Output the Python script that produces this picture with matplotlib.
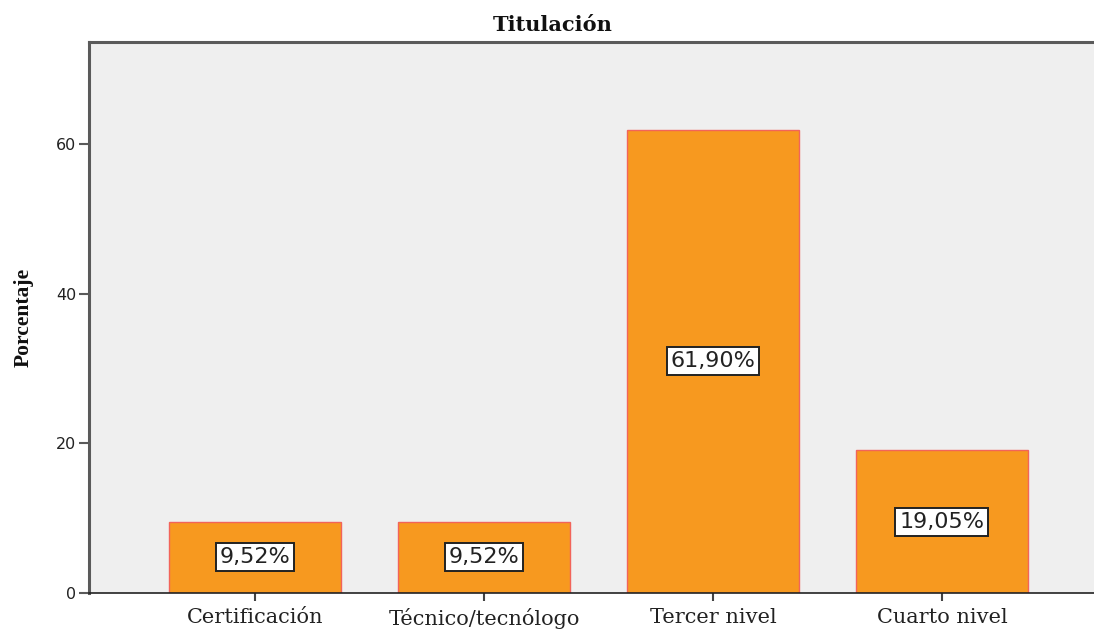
import matplotlib
matplotlib.use("Agg")
import matplotlib.pyplot as plt

# Titulación: share of respondents by highest degree
categories = ["Certificación", "Técnico/tecnólogo", "Tercer nivel", "Cuarto nivel"]
percentages = [9.52, 9.52, 61.90, 19.05]

_BAR = "#F7991F"
_BAR_EDGE = "#F2645A"
_PANEL = "#EFEFEF"
_SPINE = "#5A5A5A"
_SERIF = ["DejaVu Serif"]
_NARROW_SERIF = ["Liberation Serif", "DejaVu Serif"]

fig = plt.figure(figsize=(10.94, 6.29), dpi=100)
ax = fig.add_axes([0.0814, 0.0572, 0.9186, 0.876])
ax.set_facecolor(_PANEL)

xs = list(range(len(categories)))
ax.bar(xs, percentages, width=0.75, color=_BAR, edgecolor=_BAR_EDGE,
       linewidth=1.0, zorder=2)

for x, v in zip(xs, percentages):
    label = f"{v:.2f}%".replace(".", ",")
    ax.text(x, v / 2, label, ha="center", va="center", fontsize=16,
            color="#222222", zorder=3,
            bbox=dict(boxstyle="square,pad=0.18", facecolor="white",
                      edgecolor="#222222", linewidth=1.4))

ax.set_xlim(-0.725, 3.664)
ax.set_ylim(0, 73.6)
ax.set_yticks([0, 20, 40, 60])
ax.set_xticks(xs)
ax.set_xticklabels(categories, family=_SERIF, fontsize=15, color="#222222")
ax.tick_params(axis="y", direction="out", length=7, width=1.5,
               labelsize=11.5, color=_SPINE, labelcolor="#222222", pad=2)
ax.tick_params(axis="x", direction="out", length=6, width=1.5,
               color="#444444", pad=5)

ax.spines["right"].set_visible(False)
ax.spines["left"].set_color(_SPINE)
ax.spines["left"].set_linewidth(2.2)
ax.spines["top"].set_color(_SPINE)
ax.spines["top"].set_linewidth(2.2)
ax.spines["bottom"].set_color("#222222")
ax.spines["bottom"].set_linewidth(1.2)

ax.set_ylabel("Porcentaje", family=_NARROW_SERIF, fontweight="bold",
              fontsize=15.5, color="#111111", labelpad=16)
fig.text(553 / 1094, 1 - 25 / 629, "Titulación", family=_SERIF,
         fontweight="bold", fontsize=15, ha="center", va="center",
         color="#111111")

fig.savefig("out.png", dpi=100)
